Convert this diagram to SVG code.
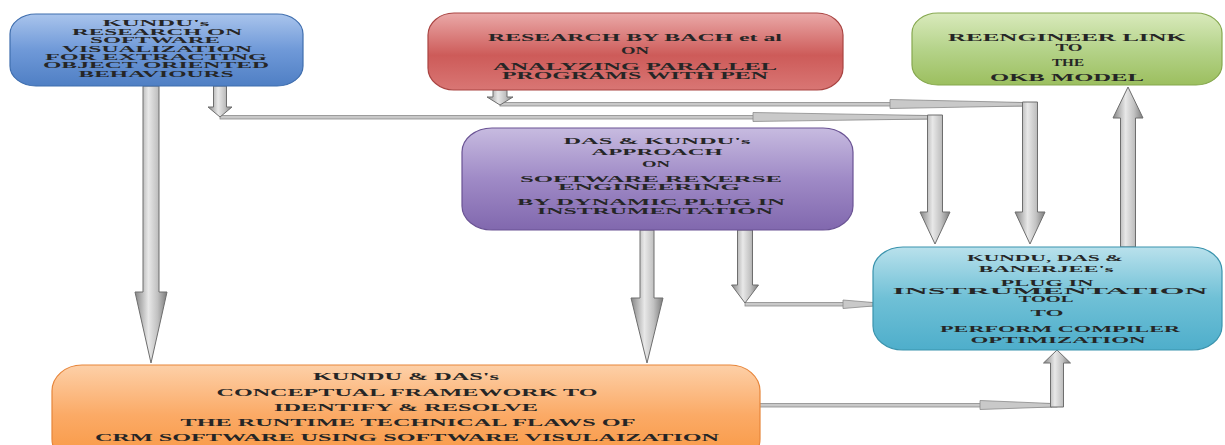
<svg xmlns="http://www.w3.org/2000/svg" width="1225" height="445" viewBox="0 0 1225 445">
<defs>
<linearGradient id="gBlue" x1="0" y1="0" x2="0" y2="1"><stop offset="0" stop-color="#a9c4ec"/><stop offset="0.5" stop-color="#6f99d8"/><stop offset="1" stop-color="#4f7fc4"/></linearGradient>
<linearGradient id="gRed" x1="0" y1="0" x2="0" y2="1"><stop offset="0" stop-color="#eaa9a8"/><stop offset="0.55" stop-color="#cd5b59"/><stop offset="1" stop-color="#d97674"/></linearGradient>
<linearGradient id="gGreen" x1="0" y1="0" x2="0" y2="1"><stop offset="0" stop-color="#d9eabc"/><stop offset="0.5" stop-color="#b5d38a"/><stop offset="1" stop-color="#9cbf5f"/></linearGradient>
<linearGradient id="gPurple" x1="0" y1="0" x2="0" y2="1"><stop offset="0" stop-color="#c7bbe0"/><stop offset="0.5" stop-color="#9f8ac6"/><stop offset="1" stop-color="#8168ae"/></linearGradient>
<linearGradient id="gCyan" x1="0" y1="0" x2="0" y2="1"><stop offset="0" stop-color="#b9e1ec"/><stop offset="0.5" stop-color="#6fc0d6"/><stop offset="1" stop-color="#4eaecb"/></linearGradient>
<linearGradient id="gOrange" x1="0" y1="0" x2="0" y2="1"><stop offset="0" stop-color="#fdd0a8"/><stop offset="0.5" stop-color="#fbaa66"/><stop offset="1" stop-color="#f8963f"/></linearGradient>
<linearGradient id="gArrow" x1="0" y1="0" x2="1" y2="0"><stop offset="0" stop-color="#858585"/><stop offset="0.42" stop-color="#e8e8e8"/><stop offset="0.7" stop-color="#c2c2c2"/><stop offset="1" stop-color="#7c7c7c"/></linearGradient>
</defs>
<style>
.t{font-family:"Liberation Serif","Times New Roman",serif;font-weight:bold;font-size:9px;fill:#262626;text-anchor:middle}
.s{font-size:8.5px}
.m{font-size:9.5px}
.box{stroke-width:1.2}
.arr{fill:url(#gArrow);stroke:#6e6e6e;stroke-width:1}
.ln{fill:#c9c9c9;stroke:#8a8a8a;stroke-width:0.8}
</style>
<rect width="1225" height="445" fill="#ffffff"/>

<g id="connectors">
  <!-- blue -> orange -->
  <polygon class="arr" points="143,86 159,86 159,292 167,292 151,363 135,292 143,292"/>
  <!-- blue -> cyan (via line) -->
  <rect class="ln" x="220" y="115.5" width="715" height="3.5"/>
  <polygon class="ln" points="753,112.5 753,121.5 928,119 928,115.5"/>
  <polygon class="arr" points="213.5,86 226.5,86 226.5,107 232,107 220,117 208,107 213.5,107"/>
  <polygon class="arr" points="927.5,115 942.5,115 942.5,212 950,212 935,244 920,212 927.5,212"/>
  <!-- red -> cyan (via line) -->
  <rect class="ln" x="500" y="102.5" width="530" height="3.5"/>
  <polygon class="ln" points="890,99.5 890,108.5 1024,106 1024,102.5"/>
  <polygon class="arr" points="493,90 507,90 507,97 513,97 500,105 487,97 493,97"/>
  <polygon class="arr" points="1022.5,102 1037.5,102 1037.5,212 1045,212 1030,244 1015,212 1022.5,212"/>
  <!-- purple -> orange -->
  <polygon class="arr" points="640,230 654,230 654,298 663,298 647,363 631,298 640,298"/>
  <!-- purple -> cyan -->
  <rect class="ln" x="745" y="302.5" width="128" height="3.5"/>
  <polygon class="ln" points="843,300 843,308.5 873,306 873,302.5"/>
  <polygon class="arr" points="737.5,230 752.5,230 752.5,285 758.5,285 745,303 731.5,285 737.5,285"/>
  <!-- orange -> cyan -->
  <rect class="ln" x="758" y="403.5" width="299" height="3.5"/>
  <polygon class="ln" points="980,400.5 980,409.5 1052,407 1052,403.5"/>
  <polygon class="arr" points="1050.5,407 1063.5,407 1063.5,363 1070.5,363 1057,350 1043.5,363 1050.5,363"/>
  <!-- cyan -> green -->
  <polygon class="arr" points="1120.5,247 1135.5,247 1135.5,118 1143,118 1128,87 1113,118 1120.5,118"/>
</g>

<g id="node-kundu-research">
  <rect class="box" x="10" y="14" width="293" height="72" rx="26" ry="20" fill="url(#gBlue)" stroke="#3f6eae"/>
  <text class="t s" x="156" y="25.5" textLength="107" lengthAdjust="spacingAndGlyphs">KUNDU's</text>
  <text class="t s" x="157" y="34.5" textLength="170" lengthAdjust="spacingAndGlyphs">RESEARCH ON</text>
  <text class="t s" x="155" y="43" textLength="130" lengthAdjust="spacingAndGlyphs">SOFTWARE</text>
  <text class="t s" x="157" y="51.5" textLength="190" lengthAdjust="spacingAndGlyphs">VISUALIZATION</text>
  <text class="t s" x="156" y="60" textLength="222" lengthAdjust="spacingAndGlyphs">FOR EXTRACTING</text>
  <text class="t s" x="156" y="68" textLength="226" lengthAdjust="spacingAndGlyphs">OBJECT ORIENTED</text>
  <text class="t s" x="156" y="76.5" textLength="155" lengthAdjust="spacingAndGlyphs">BEHAVIOURS</text>
</g>

<g id="node-bach">
  <rect class="box" x="428" y="13" width="415" height="77" rx="26" ry="22" fill="url(#gRed)" stroke="#a94442"/>
  <text class="t m" x="635" y="40.5" textLength="294" lengthAdjust="spacingAndGlyphs">RESEARCH BY BACH et al</text>
  <text class="t m" x="635" y="54" textLength="28" lengthAdjust="spacingAndGlyphs">ON</text>
  <text class="t m" x="635" y="69.5" textLength="284" lengthAdjust="spacingAndGlyphs">ANALYZING PARALLEL</text>
  <text class="t m" x="635" y="78.5" textLength="266" lengthAdjust="spacingAndGlyphs">PROGRAMS WITH PEN</text>
</g>

<g id="node-reengineer">
  <rect class="box" x="912" y="13" width="310" height="72" rx="26" ry="20" fill="url(#gGreen)" stroke="#86a84f"/>
  <text class="t m" x="1067" y="40.5" textLength="238" lengthAdjust="spacingAndGlyphs">REENGINEER LINK</text>
  <text class="t m" x="1069" y="50.5" textLength="27" lengthAdjust="spacingAndGlyphs">TO</text>
  <text class="t m" x="1068" y="65.5" textLength="32" lengthAdjust="spacingAndGlyphs">THE</text>
  <text class="t m" x="1067" y="80.5" textLength="154" lengthAdjust="spacingAndGlyphs">OKB MODEL</text>
</g>

<g id="node-das-kundu">
  <rect class="box" x="462" y="128" width="391" height="102" rx="30" ry="24" fill="url(#gPurple)" stroke="#6a5394"/>
  <text class="t" x="657" y="143.5" textLength="187" lengthAdjust="spacingAndGlyphs">DAS &amp; KUNDU's</text>
  <text class="t" x="657" y="155" textLength="131" lengthAdjust="spacingAndGlyphs">APPROACH</text>
  <text class="t" x="656" y="166.5" textLength="28" lengthAdjust="spacingAndGlyphs">ON</text>
  <text class="t" x="651" y="181.5" textLength="262" lengthAdjust="spacingAndGlyphs">SOFTWARE REVERSE</text>
  <text class="t" x="649" y="190" textLength="182" lengthAdjust="spacingAndGlyphs">ENGINEERING</text>
  <text class="t" x="651" y="205" textLength="268" lengthAdjust="spacingAndGlyphs">BY DYNAMIC PLUG IN</text>
  <text class="t" x="655" y="214" textLength="236" lengthAdjust="spacingAndGlyphs">INSTRUMENTATION</text>
</g>

<g id="node-plugin-tool">
  <rect class="box" x="873" y="247" width="349" height="103" rx="30" ry="24" fill="url(#gCyan)" stroke="#3a93ad"/>
  <text class="t" x="1045" y="260.5" textLength="156" lengthAdjust="spacingAndGlyphs">KUNDU, DAS &amp;</text>
  <text class="t" x="1046" y="271.5" textLength="135" lengthAdjust="spacingAndGlyphs">BANERJEE's</text>
  <text class="t" x="1047" y="285.5" textLength="93" lengthAdjust="spacingAndGlyphs">PLUG IN</text>
  <text class="t" x="1050" y="293.5" textLength="315" lengthAdjust="spacingAndGlyphs">INSTRUMENTATION</text>
  <text class="t" x="1046" y="301.5" textLength="55" lengthAdjust="spacingAndGlyphs">TOOL</text>
  <text class="t" x="1047" y="315.5" textLength="33" lengthAdjust="spacingAndGlyphs">TO</text>
  <text class="t" x="1060" y="331.5" textLength="240" lengthAdjust="spacingAndGlyphs">PERFORM COMPILER</text>
  <text class="t" x="1058" y="342.5" textLength="175" lengthAdjust="spacingAndGlyphs">OPTIMIZATION</text>
</g>

<g id="node-framework">
  <rect class="box" x="52" y="365" width="708" height="100" rx="30" ry="26" fill="url(#gOrange)" stroke="#e7853a"/>
  <text class="t m" x="406" y="380" textLength="186" lengthAdjust="spacingAndGlyphs">KUNDU &amp; DAS's</text>
  <text class="t m" x="407" y="396" textLength="381" lengthAdjust="spacingAndGlyphs">CONCEPTUAL FRAMEWORK TO</text>
  <text class="t m" x="406" y="411" textLength="264" lengthAdjust="spacingAndGlyphs">IDENTIFY &amp; RESOLVE</text>
  <text class="t m" x="408" y="426" textLength="455" lengthAdjust="spacingAndGlyphs">THE RUNTIME TECHNICAL FLAWS OF</text>
  <text class="t m" x="407" y="441" textLength="624" lengthAdjust="spacingAndGlyphs">CRM SOFTWARE USING SOFTWARE VISULAIZATION</text>
</g>
</svg>
